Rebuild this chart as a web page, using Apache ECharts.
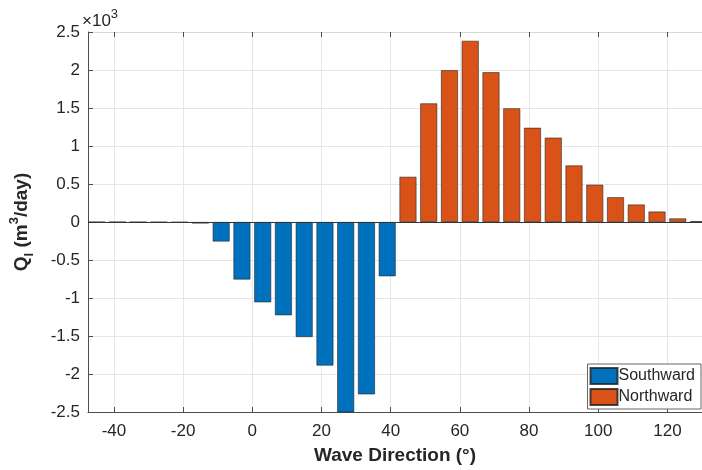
<!DOCTYPE html>
<html>
<head>
<meta charset="utf-8">
<script src="https://cdn.jsdelivr.net/npm/echarts@6/dist/echarts.min.js"></script>
<style>
    html, body { margin: 0; padding: 0; background: #fff; }
    #chart { width: 702px; height: 470px; }
</style>
</head>
<body>
<div id="chart"></div>
<script>
// wave direction (deg) and longshore transport Q_l (m^3/day)
const southDir = [-45, -39, -33, -27, -21, -15, -9, -3, 3, 9, 15, 21, 27, 33, 39];
const southQ = [-1, -1, -2, -3, -5, -20, -257, -757, -1057, -1227, -1514, -1889, -2650, -2268, -714];
const northDir = [45, 51, 57, 63, 69, 75, 81, 87, 93, 99, 105, 111, 117, 123, 129];
const northQ = [595, 1561, 1997, 2384, 1971, 1496, 1240, 1110, 744, 491, 326, 230, 138, 47, 12];
const xTicks = [-40, -20, 0, 20, 40, 60, 80, 100, 120];

const font = 'Liberation Sans, Arial, sans-serif';
const axisCol = '#4d4d4d';
const gridCol = '#e6e6e6';

const myChart = echarts.init(document.getElementById('chart'));

const option = {
    backgroundColor: '#fff',
    animation: false,
    textStyle: { fontFamily: font },
    grid: { left: 81, right: 0, top: 32, bottom: 55 },
    legend: {
        orient: 'vertical',
        right: 1,
        top: 364,
        itemWidth: 27,
        itemHeight: 16,
        itemGap: 3,
        padding: [3, 6, 3, 2],
        backgroundColor: '#fff',
        borderColor: '#666',
        borderWidth: 1,
        borderRadius: 0,
        icon: 'rect',
        textStyle: { fontSize: 16, color: '#262626', padding: [0, 0, 0, -4] },
        data: ['Southward', 'Northward']
    },
    graphic: [{
        type: 'text',
        left: 82,
        top: 8,
        style: {
            text: '{a|×10}{s|3}',
            rich: {
                a: { fontSize: 17, fill: '#262626', fontFamily: font, verticalAlign: 'bottom', lineHeight: 22 },
                s: { fontSize: 13, fill: '#262626', fontFamily: font, verticalAlign: 'top', lineHeight: 22 }
            }
        }
    }],
    xAxis: [{
        type: 'value',
        min: -47.5,
        max: 130,
        position: 'bottom',
        name: 'Wave Direction (°)',
        nameLocation: 'middle',
        nameGap: 34,
        nameTextStyle: { fontSize: 19, fontWeight: 'bold', color: '#262626' },
        axisLine: { onZero: false, lineStyle: { color: axisCol } },
        axisTick: { inside: true, length: 5, customValues: xTicks, lineStyle: { color: axisCol } },
        axisLabel: { customValues: xTicks, fontSize: 17, color: '#262626', margin: 11 },
        splitLine: { show: true, lineStyle: { color: gridCol } }
    }, {
        type: 'value',
        min: -47.5,
        max: 130,
        position: 'top',
        axisLine: { onZero: false, lineStyle: { color: '#d9d9d9' } },
        axisTick: { inside: true, length: 5, customValues: xTicks, lineStyle: { color: axisCol } },
        axisLabel: { show: false },
        splitLine: { show: false }
    }],
    yAxis: {
        type: 'value',
        min: -2500,
        max: 2500,
        interval: 500,
        name: '{b|Q}{sub|l}{b| (m}{sup|3}{b|/day)}',
        nameLocation: 'middle',
        nameRotate: 90,
        nameGap: 52,
        nameTextStyle: {
            rich: {
                b: { fontSize: 19, fontWeight: 'bold', color: '#262626', fontFamily: font, lineHeight: 28, verticalAlign: 'middle' },
                sub: { fontSize: 13, fontWeight: 'bold', color: '#262626', fontFamily: font, lineHeight: 28, verticalAlign: 'bottom' },
                sup: { fontSize: 13, fontWeight: 'bold', color: '#262626', fontFamily: font, lineHeight: 28, verticalAlign: 'top' }
            }
        },
        axisLine: { show: true, onZero: false, lineStyle: { color: axisCol } },
        axisTick: { inside: true, length: 5, lineStyle: { color: axisCol } },
        axisLabel: {
            fontSize: 17,
            color: '#262626',
            margin: 8,
            formatter: v => String(Math.round(v) / 1000)
        },
        splitLine: { show: true, lineStyle: { color: gridCol } }
    },
    series: [{
        name: 'Southward',
        type: 'bar',
        barWidth: 17,
        barGap: '-100%',
        clip: true,
        itemStyle: { color: '#0072BD', borderColor: 'rgba(30,30,30,0.8)', borderWidth: 0.7 },
        data: southDir.map((d, i) => [d, southQ[i]]),
        markLine: {
            silent: true,
            symbol: 'none',
            label: { show: false },
            lineStyle: { color: '#333', type: 'solid', width: 1 },
            data: [{ yAxis: 0 }]
        }
    }, {
        name: 'Northward',
        type: 'bar',
        barWidth: 17,
        barGap: '-100%',
        clip: true,
        itemStyle: { color: '#D95319', borderColor: 'rgba(30,30,30,0.8)', borderWidth: 0.7 },
        data: northDir.map((d, i) => [d, northQ[i]])
    }]
};

myChart.setOption(option);
</script>
</body>
</html>
